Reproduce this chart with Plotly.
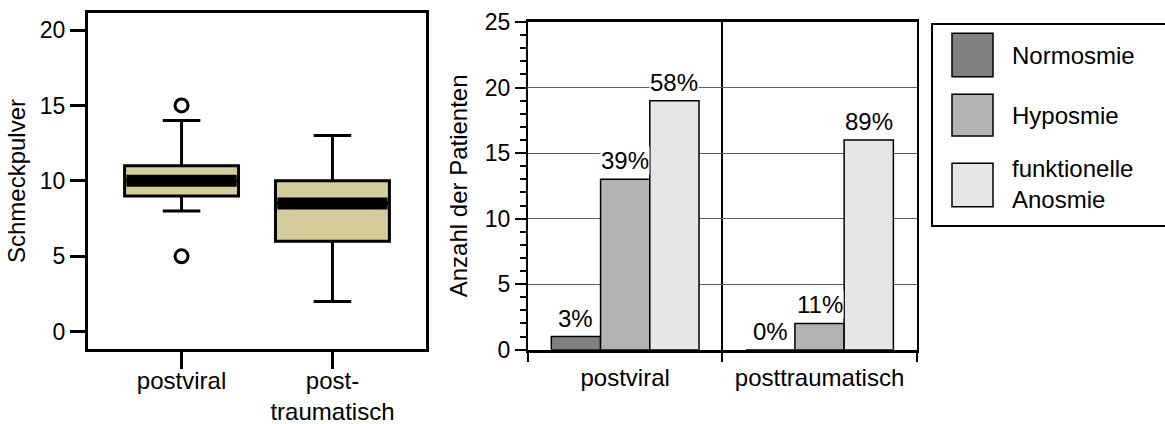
import plotly.graph_objects as go

# ---------------- data ----------------
box_groups = ["postviral", "post-<br>traumatisch"]
box_q1 = [9, 6]
box_median = [10, 8.5]
box_q3 = [11, 10]
box_lower = [8, 2]
box_upper = [14, 13]
outlier_group = [0, 0]
outlier_values = [15, 5]
box_yticks = [0, 5, 10, 15, 20]

bar_categories = ["postviral", "posttraumatisch"]
series_names = ["Normosmie", "Hyposmie", "funktionelle<br>Anosmie"]
normosmie = [1, 0]
hyposmie = [13, 2]
anosmie = [19, 16]
pct_normosmie = ["3%", "0%"]
pct_hyposmie = ["39%", "11%"]
pct_anosmie = ["58%", "89%"]

# ---------------- styles ----------------
W, H = 1165, 424
FONT = "Liberation Sans, Arial, sans-serif"
TXT = 24
TICK = 23
BOX_FILL = "#D4CD99"
BAR_COLORS = ["#808080", "#B3B3B3", "#E6E6E6"]
BOX_W = 0.755
BARGAP = 0.24


def pxx(x):
    return x / W


def pxy(y):
    return 1 - y / H


fig = go.Figure()

# ---------- left: box plot ----------
fig.add_trace(go.Box(
    x=list(range(len(box_groups))), q1=box_q1, median=box_median, q3=box_q3,
    lowerfence=box_lower, upperfence=box_upper, width=BOX_W,
    fillcolor=BOX_FILL, line=dict(color="black", width=3), whiskerwidth=0.33,
    boxpoints=False, xaxis="x", yaxis="y", showlegend=False, hoverinfo="skip"))
for i, m in enumerate(box_median):
    fig.add_trace(go.Scatter(
        x=[i - BOX_W / 2 + 0.012, i + BOX_W / 2 - 0.012], y=[m, m], mode="lines",
        line=dict(color="black", width=12), xaxis="x", yaxis="y",
        showlegend=False, hoverinfo="skip"))
fig.add_trace(go.Scatter(
    x=outlier_group, y=outlier_values, mode="markers",
    marker=dict(symbol="circle-open", size=13, color="black", line=dict(width=3)),
    xaxis="x", yaxis="y", showlegend=False, hoverinfo="skip"))

# ---------- right: grouped bars ----------
series_vals = [normosmie, hyposmie, anosmie]
series_pcts = [pct_normosmie, pct_hyposmie, pct_anosmie]
for k, (name, vals) in enumerate(zip(series_names, series_vals)):
    fig.add_trace(go.Bar(
        x=bar_categories, y=vals, name=name, xaxis="x2", yaxis="y2",
        marker=dict(color=BAR_COLORS[k], line=dict(color="black", width=1.5)),
        showlegend=False, hoverinfo="skip"))

x2_dom = [528 / W, 916.7 / W]
cat_px = (x2_dom[1] - x2_dom[0]) * W / len(bar_categories)
bar_px = cat_px * (1 - BARGAP) / 3

annotations = []
for k, (vals, pcts) in enumerate(zip(series_vals, series_pcts)):
    for cat, v, p in zip(bar_categories, vals, pcts):
        annotations.append(dict(
            x=cat, y=v, xref="x2", yref="y2", text=p, showarrow=False,
            yanchor="bottom", xshift=(k - 1) * bar_px, yshift=4,
            bgcolor="white", borderpad=0, font=dict(size=TXT, color="black")))

# ---------- manual legend ----------
shapes = [dict(type="rect", xref="paper", yref="paper",
               x0=pxx(932), x1=pxx(1166), y0=pxy(226), y1=pxy(24),
               line=dict(color="black", width=2), fillcolor="white", layer="below")]
swatch_y = [(33.3, 76.7), (94.3, 136), (163.3, 206.7)]
label_y = [55, 115, 184]
for k, name in enumerate(series_names):
    y0, y1 = swatch_y[k]
    shapes.append(dict(type="rect", xref="paper", yref="paper",
                       x0=pxx(952), x1=pxx(993), y0=pxy(y1), y1=pxy(y0),
                       line=dict(color="black", width=1.5), fillcolor=BAR_COLORS[k]))
    annotations.append(dict(
        x=pxx(1010), y=pxy(label_y[k]), xref="paper", yref="paper", text=name,
        showarrow=False, xanchor="left", yanchor="middle", align="left",
        font=dict(size=TXT, color="black")))

axis_common = dict(showgrid=False, zeroline=False, showline=True, linecolor="black",
                   mirror=True, ticks="outside", tickcolor="black", automargin=False)

fig.update_layout(
    width=W, height=H, margin=dict(l=0, r=0, t=0, b=0),
    paper_bgcolor="white", plot_bgcolor="white",
    font=dict(family=FONT, size=TXT, color="black"),
    barmode="group", bargap=BARGAP, bargroupgap=0,
    xaxis=dict(axis_common, domain=[88 / W, 426 / W], range=[-0.62, 1.62],
               tickvals=list(range(len(box_groups))), ticktext=box_groups,
               ticklen=17, tickwidth=3, linewidth=3, anchor="y",
               ticklabelstandoff=-9, tickfont=dict(size=TXT)),
    yaxis=dict(axis_common, domain=[pxy(349), pxy(13)], range=[-1.147, 21.13],
               tickvals=box_yticks, ticklen=15, tickwidth=3, linewidth=3,
               anchor="x", tickfont=dict(size=TICK),
               title=dict(text="Schmeckpulver", font=dict(size=TXT), standoff=8)),
    xaxis2=dict(axis_common, domain=x2_dom, type="category", anchor="y2",
                tickson="boundaries", ticklen=10, tickwidth=1.5, linewidth=2.5,
                showgrid=True, gridcolor="black", gridwidth=1.5,
                ticklabelstandoff=5, tickfont=dict(size=TXT)),
    yaxis2=dict(axis_common, domain=[pxy(349.7), pxy(22)], range=[0, 25], dtick=5,
                anchor="x2", ticklen=11, tickwidth=1.5, linewidth=2,
                showgrid=True, gridcolor="#606060", gridwidth=1,
                minor=dict(dtick=1, ticks="outside", ticklen=6, tickwidth=1.5,
                           tickcolor="black", showgrid=False),
                tickfont=dict(size=TICK),
                title=dict(text="Anzahl der Patienten", font=dict(size=TXT), standoff=10)),
    shapes=shapes, annotations=annotations,
)

fig.write_html("out.html")
